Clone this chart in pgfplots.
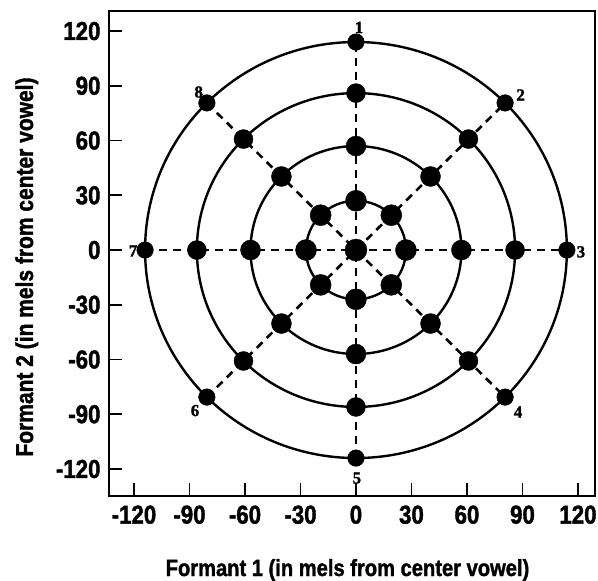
\documentclass[border=0pt]{standalone}
\usepackage{fontspec}
\setmainfont{Liberation Sans}[FakeStretch=0.86, BoldFeatures={FakeBold=1.5}]
\newfontfamily\numfont{Liberation Serif}[BoldFeatures={FakeBold=1.5}]
\usepackage{pgfplots}
\pgfplotsset{compat=1.18}
\begin{document}
\begin{tikzpicture}
\begin{axis}[name=ax, scale only axis, width=486bp, height=485bp,
  xmin=-133.5, xmax=129.2, ymin=-134.8, ymax=131,
  clip=false,
  xtick={-120,-90,-60,-30,0,30,60,90,120},
  ytick={-120,-90,-60,-30,0,30,60,90,120},
  xticklabels={-120,-90,-60,-30,0,30,60,90,120},
  yticklabels={-120,-90,-60,-30,0,30,60,90,120},
  xtick pos=bottom, ytick pos=left, tick align=inside,
  major tick length=13bp,
  every tick/.style={line width=1.8bp, black},
  axis line style={line width=2.2bp},
  tick label style={font=\fontsize{26}{29}\selectfont\bfseries},
  xticklabel style={yshift=-6bp},
  yticklabel style={xshift=-5bp},
  xlabel={Formant 1 (in mels from center vowel)},
  ylabel={Formant 2 (in mels from center vowel)},
  xlabel style={font=\fontsize{23.5}{26}\selectfont\bfseries, at={([xshift=-4.5bp,yshift=-80bp]axis description cs:0.5,0)}, anchor=base},
  ylabel style={font=\fontsize{24.5}{27}\selectfont\bfseries, at={([xshift=-76bp,yshift=-13.5bp]axis description cs:0,0.5)}, anchor=base},
]
% rings
\draw[line width=2.4bp] (axis cs:0,0) ellipse [x radius=114, y radius=114];
\draw[line width=2.4bp] (axis cs:0,0) ellipse [x radius=86, y radius=86];
\draw[line width=2.4bp] (axis cs:0,0) ellipse [x radius=57, y radius=57];
\draw[line width=2.4bp] (axis cs:0,0) ellipse [x radius=27, y radius=27];
% dashed spokes
\addplot[line width=2.6bp, dash pattern=on 8bp off 6bp] coordinates {(-114,0) (114,0)};
\addplot[line width=2.6bp, dash pattern=on 8bp off 6bp] coordinates {(0,-114) (0,114)};
\addplot[line width=2.6bp, dash pattern=on 8bp off 6bp] coordinates {(-80.6,-80.6) (80.6,80.6)};
\addplot[line width=2.6bp, dash pattern=on 8bp off 6bp] coordinates {(-80.6,80.6) (80.6,-80.6)};
% points
\addplot[only marks, mark=*, mark size=11bp, mark options={draw=none, fill=black}] coordinates {(0,0)};
\addplot[only marks, mark=*, mark size=10.5bp, mark options={draw=none, fill=black}] coordinates {
(0,27) (19.1,19.1) (27,0) (19.1,-19.1) (0,-27) (-19.1,-19.1) (-27,0) (-19.1,19.1)};
\addplot[only marks, mark=*, mark size=10bp, mark options={draw=none, fill=black}] coordinates {
(0,57) (40.3,40.3) (57,0) (40.3,-40.3) (0,-57) (-40.3,-40.3) (-57,0) (-40.3,40.3)};
\addplot[only marks, mark=*, mark size=9.5bp, mark options={draw=none, fill=black}] coordinates {
(0,86) (60.8,60.8) (86,0) (60.8,-60.8) (0,-86) (-60.8,-60.8) (-86,0) (-60.8,60.8)};
\addplot[only marks, mark=*, mark size=8.3bp, mark options={draw=none, fill=black}] coordinates {
(0,114) (80.6,80.6) (114,0) (80.6,-80.6) (0,-114) (-80.6,-80.6) (-114,0) (-80.6,80.6)};
% direction numbers
\begin{scope}[every node/.style={font=\numfont\bfseries\fontsize{17}{17}\selectfont, inner sep=0pt}]
\node at (axis cs:1.6,122) {1};
\node at (axis cs:89,85) {2};
\node at (axis cs:121.6,-1) {3};
\node at (axis cs:87.6,-88.8) {4};
\node at (axis cs:0.5,-125) {5};
\node at (axis cs:-87,-88) {6};
\node at (axis cs:-120.5,-0.5) {7};
\node at (axis cs:-85,86.6) {8};
\end{scope}
\end{axis}
\pgfresetboundingbox
\path[use as bounding box] ([shift={(-109bp,-85bp)}]ax.south west) rectangle ([shift={(3bp,11bp)}]ax.north east);
\end{tikzpicture}
\end{document}
